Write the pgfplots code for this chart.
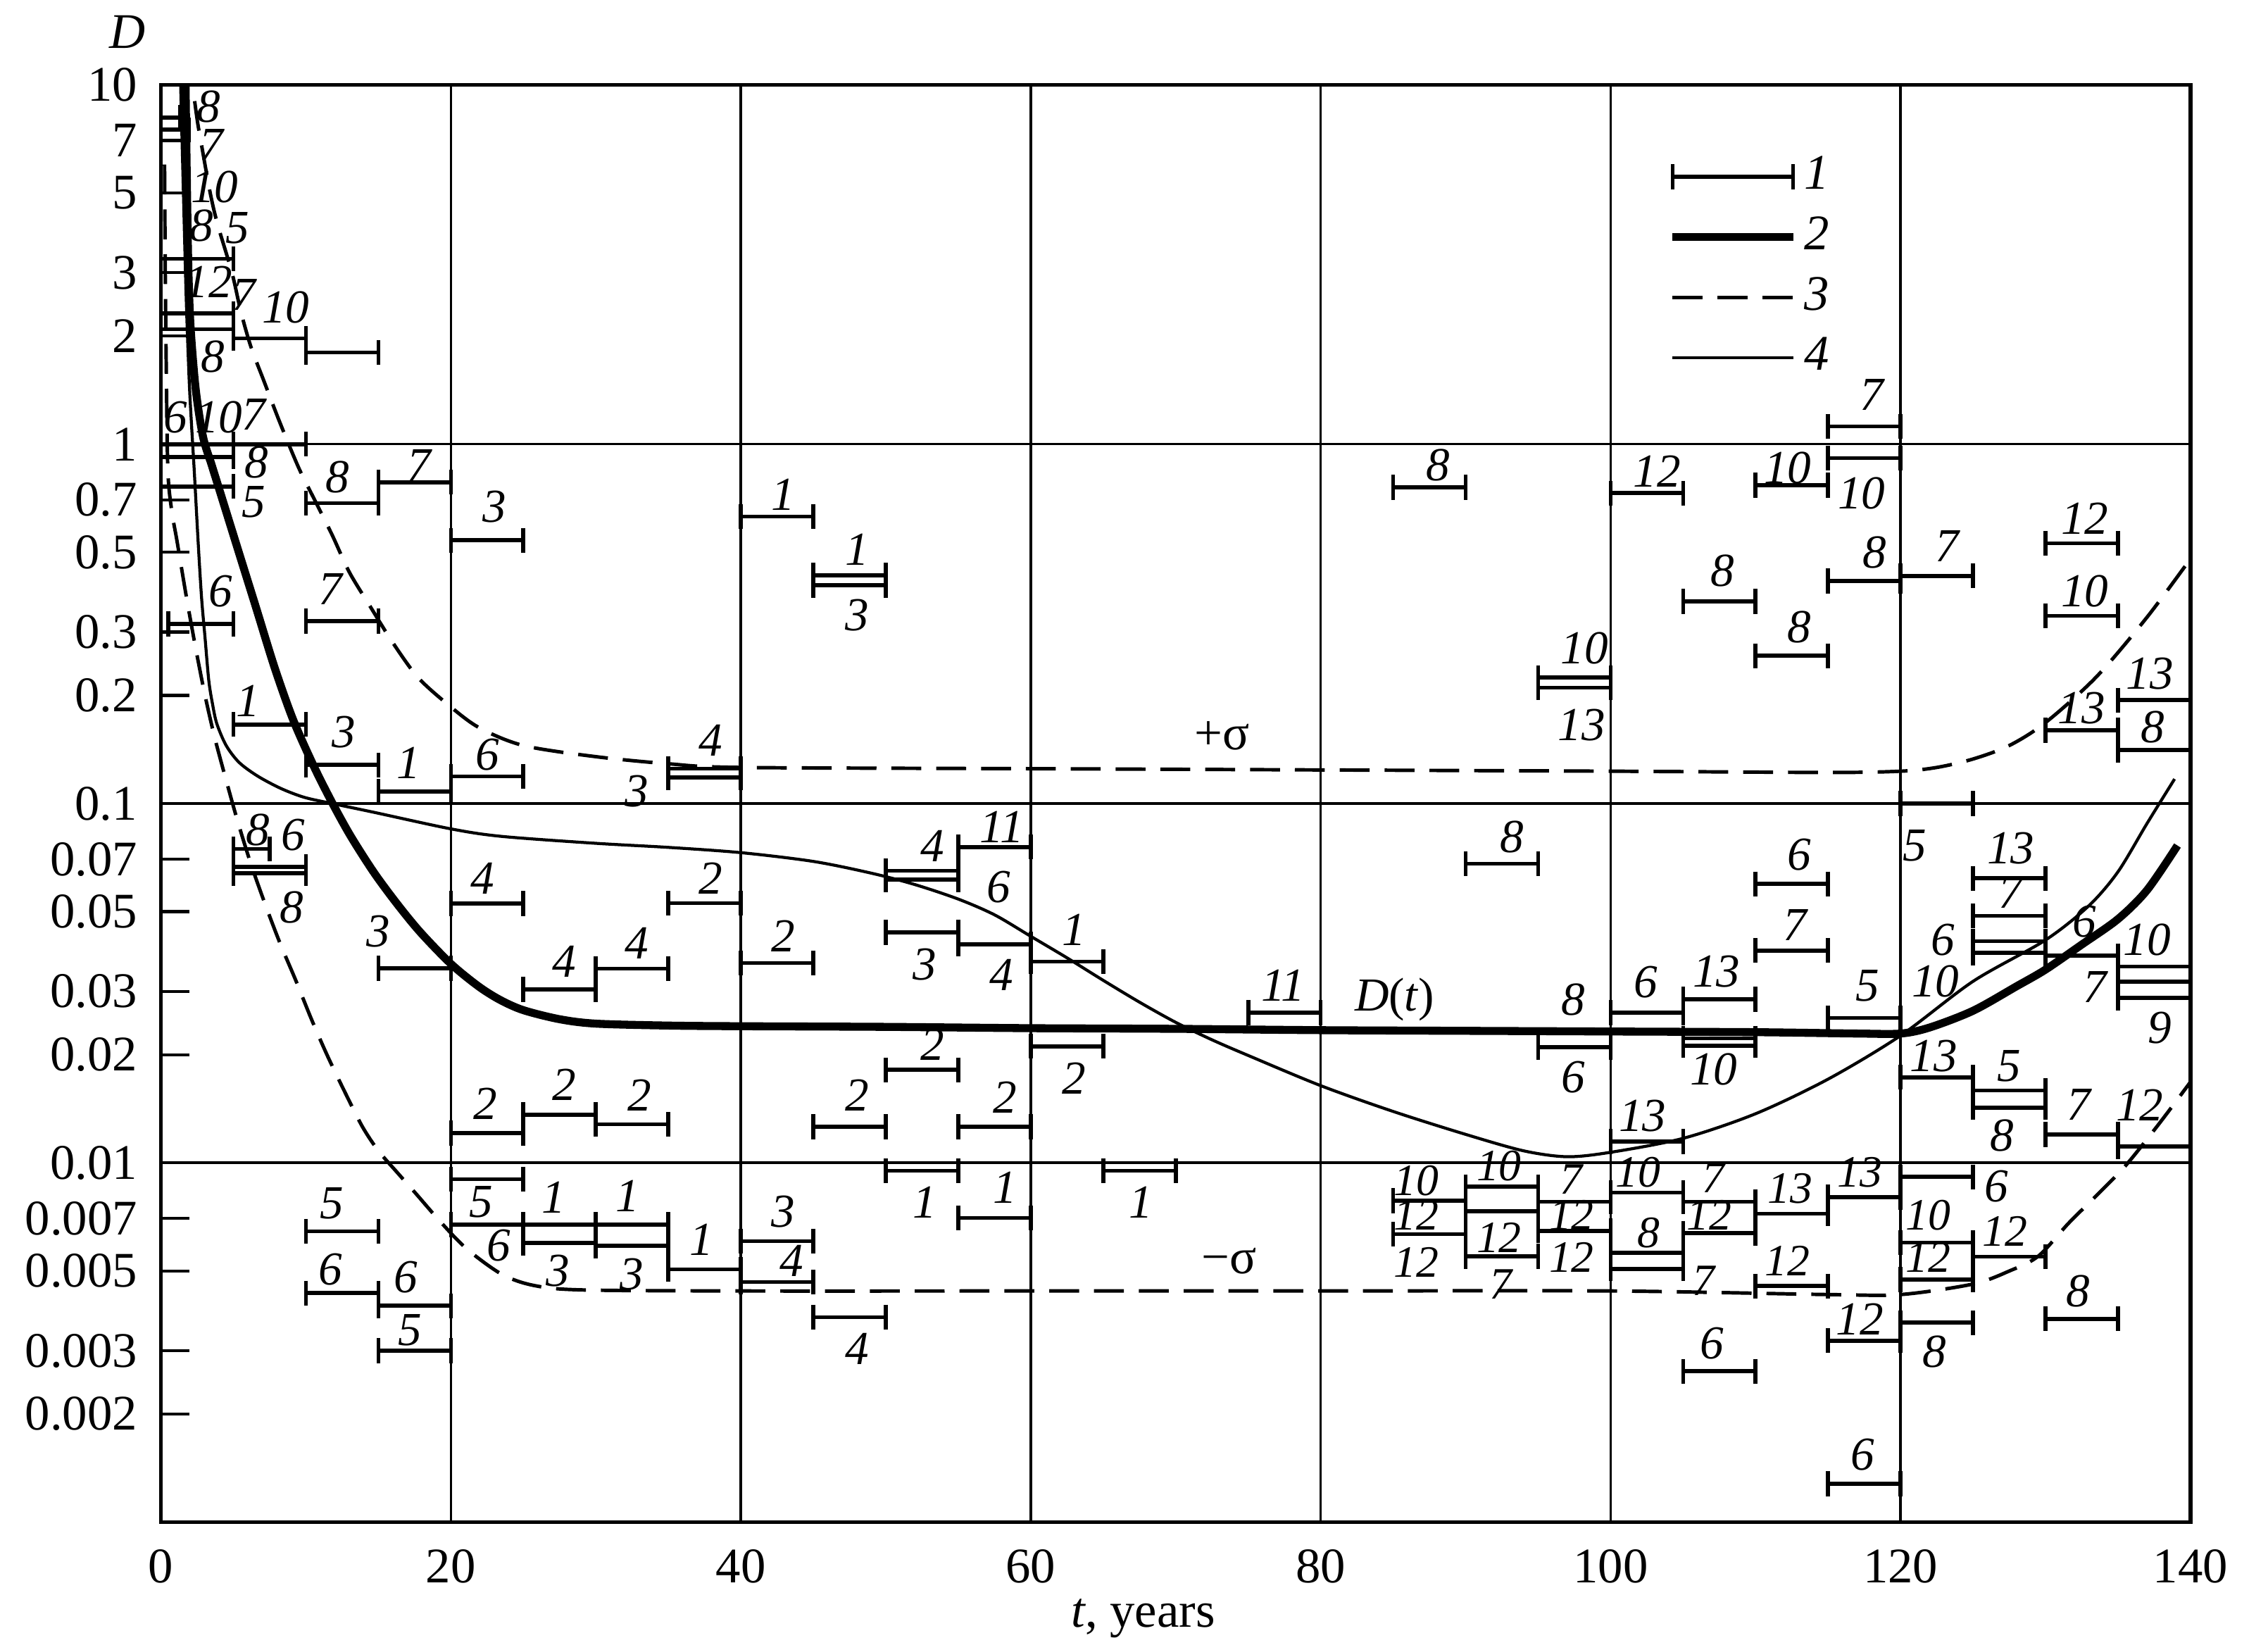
\documentclass[border=0pt]{standalone}
\usepackage{fontspec}
\setmainfont{Liberation Serif}
\usepackage{pgfplots}
\usepackage{pgfplotstable}
\pgfplotsset{compat=1.18}

% horizontal intervals (curve 1): each bar = two end points, separated by nan
\pgfplotstableread{
x y
0 8.1
1.3 8.1
nan nan
0 7.5
1.9 7.5
nan nan
0 3.28
5 3.28
nan nan
0 2.31
5 2.31
nan nan
0 2.09
5 2.09
nan nan
5 1.97
10 1.97
nan nan
10 1.80
15 1.80
nan nan
0 1.0
5 1.0
nan nan
5 1.0
10 1.0
nan nan
0 0.922
5 0.922
nan nan
0 0.763
5 0.763
nan nan
10 0.685
15 0.685
nan nan
15 0.784
20 0.784
nan nan
10 0.322
15 0.322
nan nan
0.5 0.316
5 0.316
nan nan
5 0.166
10 0.166
nan nan
10 0.128
15 0.128
nan nan
15 0.108
20 0.108
nan nan
20 0.54
25 0.54
nan nan
20 0.119
25 0.119
nan nan
5 0.0747
7.5 0.0747
nan nan
5 0.0667
10 0.0667
nan nan
5 0.064
10 0.064
nan nan
15 0.0348
20 0.0348
nan nan
20 0.0527
25 0.0527
nan nan
20 0.0121
25 0.0121
nan nan
25 0.0136
30 0.0136
nan nan
30 0.0128
35 0.0128
nan nan
25 0.0304
30 0.0304
nan nan
30 0.0347
35 0.0347
nan nan
35 0.125
40 0.125
nan nan
35 0.118
40 0.118
nan nan
35 0.0528
40 0.0528
nan nan
40 0.036
45 0.036
nan nan
45 0.0126
50 0.0126
nan nan
40 0.629
45 0.629
nan nan
45 0.432
50 0.432
nan nan
45 0.405
50 0.405
nan nan
50 0.065
55 0.065
nan nan
50 0.0614
55 0.0614
nan nan
55 0.0757
60 0.0757
nan nan
50 0.0438
55 0.0438
nan nan
55 0.0406
60 0.0406
nan nan
60 0.0363
65 0.0363
nan nan
60 0.0211
65 0.0211
nan nan
50 0.01815
55 0.01815
nan nan
55 0.0126
60 0.0126
nan nan
50 0.0095
55 0.0095
nan nan
55 0.00703
60 0.00703
nan nan
65 0.0095
70 0.0095
nan nan
75 0.0262
80 0.0262
nan nan
20 0.0090
25 0.0090
nan nan
20 0.00673
25 0.00673
nan nan
10 0.00645
15 0.00645
nan nan
25 0.00673
30 0.00673
nan nan
30 0.00673
35 0.00673
nan nan
25 0.00598
30 0.00598
nan nan
30 0.00588
35 0.00588
nan nan
35 0.00505
40 0.00505
nan nan
10 0.00434
15 0.00434
nan nan
15 0.0040
20 0.0040
nan nan
15 0.0030
20 0.0030
nan nan
40 0.00605
45 0.00605
nan nan
40 0.00466
45 0.00466
nan nan
45 0.00372
50 0.00372
nan nan
85 0.758
90 0.758
nan nan
95 0.224
100 0.224
nan nan
95 0.21
100 0.21
nan nan
90 0.068
95 0.068
nan nan
100 0.731
105 0.731
nan nan
105 0.365
110 0.365
nan nan
110 0.769
115 0.769
nan nan
115 0.914
120 0.914
nan nan
115 1.12
120 1.12
nan nan
110 0.2577
115 0.2577
nan nan
115 0.416
120 0.416
nan nan
120 0.43
125 0.43
nan nan
130 0.53
135 0.53
nan nan
130 0.333
135 0.333
nan nan
135 0.194
140 0.194
nan nan
130 0.16
135 0.16
nan nan
135 0.141
140 0.141
nan nan
120 0.1
125 0.1
nan nan
125 0.0619
130 0.0619
nan nan
125 0.0487
130 0.0487
nan nan
125 0.0414
130 0.0414
nan nan
125 0.0384
130 0.0384
nan nan
130 0.0377
135 0.0377
nan nan
135 0.0352
140 0.0352
nan nan
135 0.0319
140 0.0319
nan nan
135 0.0288
140 0.0288
nan nan
120 0.0173
125 0.0173
nan nan
125 0.0159
130 0.0159
nan nan
125 0.01425
130 0.01425
nan nan
130 0.012
135 0.012
nan nan
135 0.0111
140 0.0111
nan nan
95 0.0210
100 0.0210
nan nan
100 0.0262
105 0.0262
nan nan
105 0.0285
110 0.0285
nan nan
110 0.0390
115 0.0390
nan nan
110 0.0597
115 0.0597
nan nan
115 0.0253
120 0.0253
nan nan
105 0.0222
110 0.0222
nan nan
105 0.0212
110 0.0212
nan nan
100 0.01147
105 0.01147
nan nan
85 0.00785
90 0.00785
nan nan
85 0.00633
90 0.00633
nan nan
90 0.00858
95 0.00858
nan nan
90 0.00734
95 0.00734
nan nan
90 0.00549
95 0.00549
nan nan
95 0.00779
100 0.00779
nan nan
95 0.00647
100 0.00647
nan nan
100 0.00827
105 0.00827
nan nan
100 0.00562
105 0.00562
nan nan
100 0.00507
105 0.00507
nan nan
105 0.00779
110 0.00779
nan nan
105 0.00637
110 0.00637
nan nan
105 0.00263
110 0.00263
nan nan
110 0.00722
115 0.00722
nan nan
110 0.00454
115 0.00454
nan nan
115 0.00803
120 0.00803
nan nan
115 0.0032
120 0.0032
nan nan
115 0.00128
120 0.00128
nan nan
120 0.00914
125 0.00914
nan nan
120 0.0060
125 0.0060
nan nan
120 0.00473
125 0.00473
nan nan
125 0.00548
130 0.00548
nan nan
120 0.00359
125 0.00359
nan nan
130 0.00368
135 0.00368
}\bars

% curve 2: D(t)
\pgfplotstableread{
x y
1.68 12
1.7 10
1.8 5
1.9 3
2.05 2.1
2.4 1.42
2.9 1.05
3.5 0.875
4.0 0.754
5.28 0.514
6.56 0.351
7.84 0.239
9.12 0.171
10.56 0.1266
11.84 0.1
13.1 0.081
14.7 0.0642
16.3 0.0525
17.9 0.0438
20 0.0358
21.9 0.0310
23.4 0.0284
25 0.0266
27.5 0.0251
30 0.0244
35 0.0241
40 0.0240
50 0.0239
60 0.0237
70 0.0236
80 0.0234
90 0.0233
100 0.0232
110 0.0231
117 0.0229
120 0.0229
122 0.0238
125 0.0265
128 0.0310
130 0.0345
132.5 0.0405
135 0.0477
137 0.0574
139.1 0.0764
}\Dt

% curve 3: +sigma
\pgfplotstableread{
x y
2.15 12
2.2 10
2.5 8
2.8 6.8
3.4 5.0
3.9 4.1
4.9 3.0
5.5 2.35
6.2 1.87
7.1 1.5
8.2 1.15
9.5 0.86
10.6 0.70
11.8 0.56
13.0 0.44
14.5 0.35
16.0 0.28
17.7 0.225
19.7 0.19
21.9 0.163
25 0.145
30 0.135
35 0.129
40 0.126
60 0.125
80 0.124
100 0.123
115 0.122
120 0.123
122.5 0.126
125 0.133
127.5 0.145
130 0.168
133.5 0.225
137 0.33
140 0.48
}\sigp

% curve 3: -sigma
\pgfplotstableread{
x y
0.25 6
0.3 3
0.37 1.6
0.48 0.84
0.75 0.65
1.1 0.54
1.76 0.375
2.4 0.27
3.04 0.2
3.7 0.153
4.5 0.116
5.3 0.089
6.2 0.068
7.2 0.0523
8.2 0.041
9.3 0.0322
10.4 0.025
11.5 0.0198
12.7 0.0157
13.9 0.0126
15 0.0108
16.3 0.0094
17.6 0.0082
19.3 0.00684
21.1 0.00576
23.5 0.0049
25.7 0.00456
29 0.00443
40 0.0044
60 0.0044
80 0.0044
100 0.0044
115 0.0043
120 0.0043
125 0.0046
127.5 0.0050
129.5 0.0055
131.6 0.0068
133.5 0.0081
135.5 0.0098
137.8 0.0128
140 0.0168
}\sigm

% curve 4
\pgfplotstableread{
x y
1.33 12
1.36 10
1.55 5
1.75 2.5
1.95 1.5
2.1 1.15
2.3 0.84
2.56 0.54
2.8 0.375
3.04 0.29
3.3 0.22
3.55 0.19
3.85 0.167
4.5 0.145
5.4 0.13
6.7 0.119
8.3 0.11
9.9 0.104
11.8 0.1
14.7 0.0945
20 0.085
23.5 0.081
30 0.0775
35 0.0755
40 0.073
45 0.069
49 0.064
52 0.0595
55 0.0542
57.5 0.049
60 0.0427
62.5 0.0372
65 0.0322
67.5 0.0280
70 0.0246
72.5 0.0220
75 0.0199
80 0.0164
85 0.0139
90 0.0120
94 0.0108
97 0.0104
100 0.0107
105 0.0117
110 0.0137
115 0.0171
120 0.0226
125 0.0320
130 0.0417
133 0.052
135 0.0646
137 0.088
138.9 0.117
}\thin

\begin{document}
\begin{tikzpicture}[lab/.style={font=\fontsize{9.5}{11}\selectfont\itshape, inner sep=0pt, anchor=center},
  labs/.style={font=\fontsize{9}{10.5}\selectfont\itshape, inner sep=0pt, anchor=center}]
\begin{axis}[
  scale only axis, width=14.32cm, height=10.14cm,
  xmin=0, xmax=140, ymode=log, ymin=0.001, ymax=10,
  xtick={0,20,40,60,80,100,120,140},
  xticklabels={0,20,40,60,80,100,120,140},
  ytick={0.002,0.003,0.005,0.007,0.01,0.02,0.03,0.05,0.07,0.1,0.2,0.3,0.5,0.7,1,2,3,5,7,10},
  yticklabels={0.002,0.003,0.005,0.007,0.01,0.02,0.03,0.05,0.07,0.1,0.2,0.3,0.5,0.7,1,2,3,5,7,10},
  extra y ticks={0.01,0.1,1}, extra y tick labels={},
  extra y tick style={grid=major, tick style={draw=none}},
  xmajorgrids=true, yminorticks=false, xminorticks=false,
  major grid style={black, line width=0.5pt},
  xtick style={draw=none},
  ytick pos=left, tick align=inside, major tick length=0.2cm,
  ytick style={black, line width=0.6pt},
  axis line style={line width=0.8pt},
  tick label style={font=\fontsize{10}{12}\selectfont},
  xticklabel style={anchor=center, inner sep=0pt, yshift=-0.31cm},
  yticklabel style={anchor=east, inner sep=0pt, xshift=-0.16cm},
  xlabel={\textit{t}, years},
  xlabel style={font=\fontsize{10}{12}\selectfont, at={(rel axis cs:0.484,0)}, anchor=base, inner sep=0pt, yshift=-0.74cm},
  unbounded coords=jump,
  legend image code/.code={\draw[#1] plot coordinates {(0cm,0cm) (0.85cm,0cm)};},
  legend style={at={(0.735,0.963)}, anchor=north west, draw=none, fill=none,
    font=\fontsize{10}{12}\selectfont\itshape, row sep=1pt,
    nodes={inner sep=1.5pt},
    /tikz/every even column/.append style={column sep=6pt}},
  legend cell align=left,
]
\addplot[black, line width=0.8pt, mark=|, mark size=2.5pt, mark options={solid, line width=0.8pt}] table {\bars};
\addplot[black, line width=1.6pt, smooth] table {\Dt};
\addplot[black, line width=0.7pt, dash pattern=on 6pt off 3pt, smooth] table {\sigp};
\addplot[black, line width=0.6pt, smooth] table {\thin};
\addplot[black, line width=0.7pt, dash pattern=on 6pt off 3pt, smooth, forget plot] table {\sigm};
\legend{1,2,3,4}

\coordinate (bbSW) at (rel axis cs:-0.0793,-0.0804);
\coordinate (bbNE) at (rel axis cs:1.0382,1.059);
\coordinate (Dlab) at (rel axis cs:-0.0166,1.0367);

% labels of the intervals
\node[lab] at (axis cs:3.3,8.7) {8};
\node[lab] at (axis cs:3.5,6.8) {7};
\node[lab] at (axis cs:3.7,5.2) {10};
\node[lab] at (axis cs:2.8,4.05) {8};
\node[lab] at (axis cs:5.3,4.0) {5};
\node[lab] at (axis cs:3.3,2.83) {12};
\node[lab] at (axis cs:5.7,2.6) {7};
\node[lab] at (axis cs:8.6,2.4) {10};
\node[lab] at (axis cs:3.6,1.75) {8};
\node[lab] at (axis cs:1.0,1.19) {6};
\node[lab] at (axis cs:4.0,1.19) {10};
\node[lab] at (axis cs:6.4,1.21) {7};
\node[lab] at (axis cs:6.6,0.89) {8};
\node[lab] at (axis cs:6.4,0.69) {5};
\node[lab] at (axis cs:12.2,0.81) {8};
\node[lab] at (axis cs:17.8,0.874) {7};
\node[lab] at (axis cs:11.7,0.396) {7};
\node[lab] at (axis cs:4.1,0.389) {6};
\node[lab] at (axis cs:6.0,0.193) {1};
\node[lab] at (axis cs:12.6,0.158) {3};
\node[lab] at (axis cs:17.1,0.13) {1};
\node[lab] at (axis cs:23.0,0.67) {3};
\node[lab] at (axis cs:22.5,0.137) {6};
\node[lab] at (axis cs:6.7,0.0844) {8};
\node[lab] at (axis cs:9.1,0.0817) {6};
\node[lab] at (axis cs:9.0,0.0514) {8};
\node[lab] at (axis cs:15.0,0.044) {3};
\node[lab] at (axis cs:22.2,0.062) {4};
\node[lab] at (axis cs:22.4,0.0146) {2};
\node[lab] at (axis cs:27.8,0.0165) {2};
\node[lab] at (axis cs:33.0,0.0154) {2};
\node[lab] at (axis cs:27.8,0.0363) {4};
\node[lab] at (axis cs:32.8,0.0409) {4};
\node[lab] at (axis cs:37.9,0.150) {4};
\node[lab] at (axis cs:32.8,0.108) {3};
\node[lab] at (axis cs:37.9,0.0618) {2};
\node[lab] at (axis cs:42.9,0.0427) {2};
\node[lab] at (axis cs:48.0,0.0154) {2};
\node[lab] at (axis cs:42.9,0.724) {1};
\node[lab] at (axis cs:48.0,0.51) {1};
\node[lab] at (axis cs:48.0,0.334) {3};
\node[lab] at (axis cs:53.2,0.0762) {4};
\node[lab] at (axis cs:57.8,0.0585) {6};
\node[lab] at (axis cs:58.0,0.0862) {11};
\node[lab] at (axis cs:52.7,0.0357) {3};
\node[lab] at (axis cs:58.0,0.0333) {4};
\node[lab] at (axis cs:63.0,0.0445) {1};
\node[lab] at (axis cs:63.0,0.0172) {2};
\node[lab] at (axis cs:53.2,0.0213) {2};
\node[lab] at (axis cs:58.2,0.0152) {2};
\node[lab] at (axis cs:52.7,0.00776) {1};
\node[lab] at (axis cs:58.2,0.00852) {1};
\node[lab] at (axis cs:67.6,0.00776) {1};
\node[lab] at (axis cs:77.4,0.0312) {11};
\node[lab] at (axis cs:22.1,0.0078) {5};
\node[lab] at (axis cs:23.3,0.0059) {6};
\node[lab] at (axis cs:11.8,0.0077) {5};
\node[lab] at (axis cs:27.1,0.0080) {1};
\node[lab] at (axis cs:32.2,0.0081) {1};
\node[lab] at (axis cs:27.4,0.0050) {3};
\node[lab] at (axis cs:32.5,0.0049) {3};
\node[lab] at (axis cs:37.3,0.0061) {1};
\node[lab] at (axis cs:11.7,0.00505) {6};
\node[lab] at (axis cs:16.9,0.0048) {6};
\node[lab] at (axis cs:17.2,0.00343) {5};
\node[lab] at (axis cs:42.9,0.00733) {3};
\node[lab] at (axis cs:43.5,0.00533) {4};
\node[lab] at (axis cs:48.0,0.00303) {4};
\node[lab] at (axis cs:88.1,0.875) {8};
\node[lab] at (axis cs:98.2,0.27) {10};
\node[lab] at (axis cs:98.0,0.165) {13};
\node[lab] at (axis cs:93.2,0.0808) {8};
\node[lab] at (axis cs:103.2,0.84) {12};
\node[lab] at (axis cs:107.7,0.445) {8};
\node[lab] at (axis cs:112.2,0.86) {10};
\node[lab] at (axis cs:117.3,0.73) {10};
\node[lab] at (axis cs:118.0,1.37) {7};
\node[lab] at (axis cs:113.0,0.31) {8};
\node[lab] at (axis cs:118.2,0.50) {8};
\node[lab] at (axis cs:123.2,0.52) {7};
\node[lab] at (axis cs:132.7,0.62) {12};
\node[lab] at (axis cs:132.7,0.39) {10};
\node[lab] at (axis cs:137.2,0.23) {13};
\node[lab] at (axis cs:132.5,0.184) {13};
\node[lab] at (axis cs:137.4,0.163) {8};
\node[lab] at (axis cs:121.0,0.0763) {5};
\node[lab] at (axis cs:127.6,0.075) {13};
\node[lab] at (axis cs:127.6,0.0565) {7};
\node[lab] at (axis cs:122.9,0.0418) {6};
\node[lab] at (axis cs:132.7,0.047) {6};
\node[lab] at (axis cs:137.0,0.0418) {10};
\node[lab] at (axis cs:133.4,0.0308) {7};
\node[lab] at (axis cs:137.9,0.0237) {9};
\node[lab] at (axis cs:122.4,0.032) {10};
\node[lab] at (axis cs:122.3,0.0198) {13};
\node[lab] at (axis cs:127.5,0.0186) {5};
\node[lab] at (axis cs:127.0,0.0119) {8};
\node[lab] at (axis cs:132.3,0.0145) {7};
\node[lab] at (axis cs:136.5,0.0145) {12};
\node[lab] at (axis cs:97.4,0.0285) {8};
\node[lab] at (axis cs:97.4,0.0173) {6};
\node[lab] at (axis cs:102.4,0.0318) {6};
\node[lab] at (axis cs:107.3,0.0341) {13};
\node[lab] at (axis cs:112.7,0.0459) {7};
\node[lab] at (axis cs:113.0,0.072) {6};
\node[lab] at (axis cs:117.7,0.0311) {5};
\node[lab] at (axis cs:107.1,0.0182) {10};
\node[lab] at (axis cs:102.2,0.0135) {13};
% dense cluster below 0.01
\node[labs] at (axis cs:86.6,0.0089) {10};
\node[labs] at (axis cs:86.6,0.00715) {12};
\node[labs] at (axis cs:86.6,0.00528) {12};
\node[labs] at (axis cs:92.3,0.0098) {10};
\node[labs] at (axis cs:92.3,0.00620) {12};
\node[labs] at (axis cs:92.4,0.00460) {7};
\node[labs] at (axis cs:97.3,0.0090) {7};
\node[labs] at (axis cs:97.3,0.00715) {12};
\node[labs] at (axis cs:97.3,0.00546) {12};
\node[labs] at (axis cs:101.9,0.0094) {10};
\node[labs] at (axis cs:102.6,0.00640) {8};
\node[labs] at (axis cs:106.4,0.00470) {7};
\node[labs] at (axis cs:107.1,0.0091) {7};
\node[labs] at (axis cs:106.8,0.00715) {12};
\node[lab] at (axis cs:107.0,0.00315) {6};
\node[labs] at (axis cs:112.4,0.0085) {13};
\node[labs] at (axis cs:112.2,0.00534) {12};
\node[labs] at (axis cs:117.2,0.0094) {13};
\node[lab] at (axis cs:117.2,0.00368) {12};
\node[lab] at (axis cs:117.4,0.00154) {6};
\node[lab] at (axis cs:126.6,0.0086) {6};
\node[labs] at (axis cs:121.9,0.00716) {10};
\node[labs] at (axis cs:121.9,0.00545) {12};
\node[labs] at (axis cs:127.2,0.00645) {12};
\node[lab] at (axis cs:122.35,0.00298) {8};
\node[lab] at (axis cs:132.25,0.00439) {8};
% curve labels
\node[lab] at (axis cs:85.1,0.0285) {D\/\upshape(\itshape t\/\upshape)};
\node[lab, font=\fontsize{10}{12}\selectfont] at (axis cs:73.2,0.154) {+σ};
\node[lab, font=\fontsize{10}{12}\selectfont] at (axis cs:73.7,0.00533) {−σ};
\end{axis}
\node[font=\fontsize{10}{12}\selectfont\itshape, inner sep=0pt] at (Dlab) {D};
\pgfresetboundingbox
\path[use as bounding box] (bbSW) rectangle (bbNE);
\end{tikzpicture}
\end{document}
